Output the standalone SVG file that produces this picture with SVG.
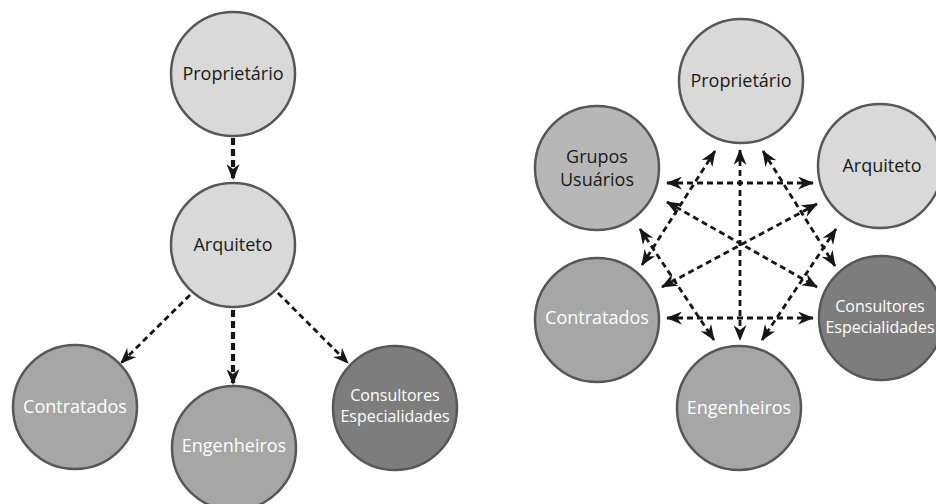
<svg xmlns="http://www.w3.org/2000/svg" width="936" height="504" viewBox="0 0 936 504">
  <defs>
    <marker id="head" viewBox="0 0 16 13" refX="15" refY="6.5" markerWidth="16" markerHeight="13" markerUnits="userSpaceOnUse" orient="auto-start-reverse">
      <path d="M0,0 L16,6.5 L0,13 L5,6.5 Z" fill="#161616"/>
    </marker>
    <style>
      .node { stroke: #575757; stroke-width: 2.5; }
      .light { fill: #d9d9d9; }
      .mid { fill: #a6a6a6; }
      .soft { fill: #b7b7b7; }
      .dark { fill: #7d7d7d; }
      text { font-family: "Open Sans", "Noto Sans", sans-serif; font-size: 18px; text-anchor: middle; }
      .ink { fill: #1a1a1a; }
      .white { fill: #ffffff; }
      .small { font-size: 16px; }
      .link { fill: none; stroke: #161616; stroke-width: 2.8; stroke-dasharray: 6 4; }
      .bold { stroke-width: 4.2; stroke-dasharray: 7 4; }
      .one { marker-end: url(#head); }
      .two { marker-start: url(#head); marker-end: url(#head); }
    </style>
  </defs>
  <rect width="936" height="504" fill="#ffffff"/>

  <!-- hierarchical chart: connectors -->
  <g id="tree-links">
    <line class="link bold one" x1="233" y1="138" x2="233" y2="179"/>
    <line class="link one" x1="190" y1="295" x2="121" y2="363"/>
    <line class="link bold one" x1="233" y1="310" x2="233" y2="384"/>
    <line class="link one" x1="278" y1="293" x2="348" y2="363"/>
  </g>

  <!-- hierarchical chart: nodes -->
  <g id="tree-proprietario">
    <circle class="node light" cx="233" cy="74" r="62"/>
    <text class="ink" x="233" y="80">Proprietário</text>
  </g>
  <g id="tree-arquiteto">
    <circle class="node light" cx="233" cy="245" r="62"/>
    <text class="ink" x="233" y="251">Arquiteto</text>
  </g>
  <g id="tree-contratados">
    <circle class="node mid" cx="75" cy="407" r="62"/>
    <text class="white" x="75" y="413">Contratados</text>
  </g>
  <g id="tree-engenheiros">
    <circle class="node mid" cx="234" cy="448" r="62"/>
    <text class="white" x="234" y="452">Engenheiros</text>
  </g>
  <g id="tree-consultores">
    <circle class="node dark" cx="395" cy="408" r="62"/>
    <text class="white small" x="395" y="401">Consultores</text>
    <text class="white small" x="395" y="422">Especialidades</text>
  </g>

  <!-- collaborative network: connectors -->
  <g id="net-links">
    <line class="link two" x1="667" y1="183" x2="813" y2="183"/>
    <line class="link two" x1="667" y1="318" x2="813" y2="318"/>
    <line class="link two" x1="740" y1="150" x2="740" y2="340"/>
    <line class="link two" x1="715" y1="151" x2="642" y2="265"/>
    <line class="link two" x1="763" y1="151" x2="835" y2="266"/>
    <line class="link two" x1="640" y1="229" x2="714" y2="340"/>
    <line class="link two" x1="836" y1="229" x2="762" y2="340"/>
    <line class="link two" x1="667" y1="202" x2="817" y2="287"/>
    <line class="link two" x1="817" y1="204" x2="662" y2="287"/>
  </g>

  <!-- collaborative network: nodes -->
  <g id="net-proprietario">
    <circle class="node light" cx="741" cy="81" r="62"/>
    <text class="ink" x="741" y="87">Proprietário</text>
  </g>
  <g id="net-grupos">
    <circle class="node soft" cx="597" cy="168" r="62"/>
    <text class="ink" x="597" y="163">Grupos</text>
    <text class="ink" x="597" y="186">Usuários</text>
  </g>
  <g id="net-arquiteto">
    <circle class="node light" cx="880" cy="166" r="62"/>
    <text class="ink" x="882" y="172">Arquiteto</text>
  </g>
  <g id="net-contratados">
    <circle class="node mid" cx="597" cy="320" r="62"/>
    <text class="white" x="597" y="324">Contratados</text>
  </g>
  <g id="net-consultores">
    <circle class="node dark" cx="881" cy="318" r="62"/>
    <text class="white small" x="880" y="312">Consultores</text>
    <text class="white small" x="880" y="333">Especialidades</text>
  </g>
  <g id="net-engenheiros">
    <circle class="node mid" cx="739" cy="408" r="62"/>
    <text class="white" x="739" y="414">Engenheiros</text>
  </g>
</svg>
